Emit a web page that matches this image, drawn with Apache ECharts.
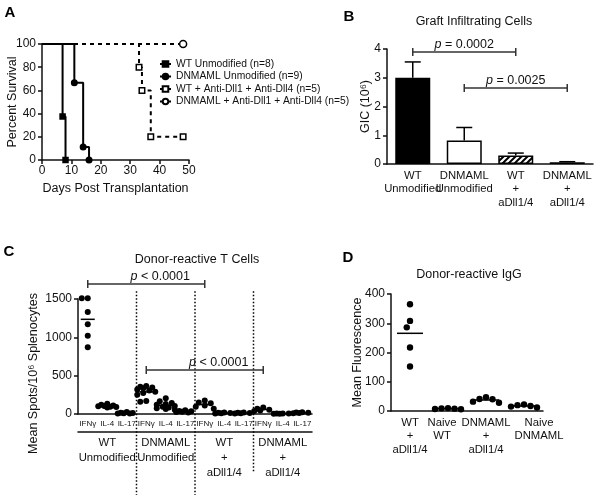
<!DOCTYPE html>
<html><head><meta charset="utf-8">
<script src="https://cdn.jsdelivr.net/npm/echarts@6/dist/echarts.min.js"></script>
<style>html,body{margin:0;padding:0;background:#fff}#c{width:602px;height:503px}</style>
</head><body><div id="c"></div>
<script>
// ---------- Panel A: survival ----------
const survNames = ['WT Unmodified (n=8)', 'DNMAML Unmodified (n=9)', 'WT + Anti-Dll1 + Anti-Dll4 (n=5)', 'DNMAML + Anti-Dll1 + Anti-Dll4 (n=5)'];
const daysWT = [0, 7, 8];
const pctWT = [100, 37.5, 0];
const daysDN = [0, 11, 14, 16];
const pctDN = [100, 66.7, 11.1, 0];
const daysWTa = [0, 33, 34, 37, 48];
const pctWTa = [100, 80, 60, 20, 20];
const daysDNa = [0, 48];
const pctDNa = [100, 100];

// ---------- Panel B: graft infiltrating cells ----------
const bCats = ['WT\nUnmodified', 'DNMAML\nUnmodified', 'WT\n+\naDll1/4', 'DNMAML\n+\naDll1/4'];
const bMean = [3.0, 0.82, 0.30, 0.06];
const bErr = [0.55, 0.45, 0.08, 0.02];
const bBrackets = [[0, 2, 3.9], [1, 3, 2.64]];
const bBracketLabels = ['= 0.0002', '= 0.0025'];

// ---------- Panel C: donor-reactive T cells ----------
const cCats = ['IFNγ', 'IL-4', 'IL-17', 'IFNγ', 'IL-4', 'IL-17', 'IFNγ', 'IL-4', 'IL-17', 'IFNγ', 'IL-4', 'IL-17'];
const cGroups = ['WT\nUnmodified', 'DNMAML\nUnmodified', 'WT\n+\naDll1/4', 'DNMAML\n+\naDll1/4'];
const cWT_IFNg = [1510, 1510, 1330, 1170, 1020, 870];
const cWT_IL4 = [135, 120, 110, 100, 95, 90, 85, 105];
const cWT_IL17 = [25, 15, 10, 8, 5, 12];
const cDN_IFNg = [365, 355, 345, 335, 320, 305, 290, 275, 250, 170, 160];
const cDN_IL4 = [205, 165, 145, 130, 120, 105, 95, 85, 75, 65, 55];
const cDN_IL17 = [50, 40, 35, 30, 25, 20];
const cWTa_IFNg = [175, 150, 140, 110, 95, 70];
const cWTa_IL4 = [15, 10, 20, 5, 12];
const cWTa_IL17 = [15, 10, 20, 8, 12];
const cDNa_IFNg = [85, 70, 55, 45, 40];
const cDNa_IL4 = [5, 3, 8, 2, 6];
const cDNa_IL17 = [12, 18, 22, 10, 15];
const cBrackets = [[0, 6, 1696], [3, 9, 574]];
const cBracketLabels = ['< 0.0001', '< 0.0001'];

// ---------- Panel D: donor-reactive IgG ----------
const dCats = ['WT\n+\naDll1/4', 'Naive\nWT', 'DNMAML\n+\naDll1/4', 'Naive\nDNMAML'];
const dWTa = [365, 308, 286, 217, 152];
const dNaiveWT = [8, 6, 10, 7, 9];
const dDNa = [47, 40, 28, 32, 41];
const dNaiveDN = [17, 12, 22, 20, 15];

// ---------- layout / style ----------
const FONT = 'Liberation Sans, Arial, sans-serif';
const INK = '#111';
const G = [
  {left: 42, top: 44, width: 147, height: 116},
  {left: 387, top: 49, width: 206, height: 115},
  {left: 78, top: 299, width: 234, height: 115},
  {left: 391, top: 294, width: 152, height: 117}
];

function swarm(values, pxPerVal, pxPerCat, d, maxOff) {
  const order = values.map((_, i) => i).sort((a, b) => values[b] - values[a]);
  const placed = [], out = new Array(values.length);
  const cands = [0];
  for (let k = 1; k * d / 2 <= maxOff + 1e-9; k++) cands.push(-k * d / 2, k * d / 2);
  order.forEach(i => {
    const y = values[i] * pxPerVal;
    let best = 0, bestScore = -Infinity;
    for (const c of cands) {
      let m = Infinity;
      for (const p of placed) m = Math.min(m, Math.hypot(p[0] - c, p[1] - y));
      if (m >= d) { best = c; break; }
      if (m > bestScore) { bestScore = m; best = c; }
    }
    placed.push([best, y]);
    out[i] = best / pxPerCat;
  });
  return out;
}
const mean = a => a.reduce((s, v) => s + v, 0) / a.length;
const plain = v => String(v);

function valueAxisY(grid, min, max, interval, name, gap, namePad) {
  return {
    type: 'value', gridIndex: grid, min, max, interval,
    name, nameLocation: 'middle', nameGap: gap, nameMoveOverlap: false,
    nameTextStyle: {fontFamily: FONT, fontSize: 12.5, color: INK, padding: namePad || 0},
    axisLine: {show: true, onZero: false, lineStyle: {color: INK, width: 1.5}},
    axisTick: {show: true, length: 4, lineStyle: {color: INK, width: 1.5}},
    axisLabel: {fontFamily: FONT, fontSize: 12, color: INK, margin: 6, formatter: plain},
    splitLine: {show: false}
  };
}
function catAxisX(grid, data, fontSize, lh, margin, extra) {
  return Object.assign({
    type: 'category', gridIndex: grid, data, position: 'bottom',
    axisLine: {show: true, onZero: false, lineStyle: {color: INK, width: 1.5}},
    axisTick: {show: false},
    axisLabel: {interval: 0, fontFamily: FONT, fontSize, lineHeight: lh, color: INK, margin, hideOverlap: false},
    splitLine: {show: false}
  }, extra || {});
}

// hatch pattern
const hatch = document.createElement('canvas');
hatch.width = 6; hatch.height = 6;
(function () {
  const ctx = hatch.getContext('2d');
  ctx.fillStyle = '#fff'; ctx.fillRect(0, 0, 6, 6);
  ctx.strokeStyle = '#000'; ctx.lineWidth = 2;
  ctx.beginPath();
  ctx.moveTo(0, 6); ctx.lineTo(6, 0);
  ctx.moveTo(-3, 3); ctx.lineTo(3, -3);
  ctx.moveTo(3, 9); ctx.lineTo(9, 3);
  ctx.stroke();
})();

// Panel A series
function survData(days, pct) {
  return days.map((d, i) => i === 0 ? {value: [d, pct[i]], symbol: 'none'} : [d, pct[i]]);
}
const survSets = [
  {d: daysWT, p: pctWT, sym: 'rect', size: 5, fill: '#000', dash: 'solid'},
  {d: daysDN, p: pctDN, sym: 'circle', size: 5.5, fill: '#000', dash: 'solid'},
  {d: daysWTa, p: pctWTa, sym: 'rect', size: 5.5, fill: '#fff', dash: [4, 4]},
  {d: daysDNa, p: pctDNa, sym: 'circle', size: 7, fill: '#fff', dash: [4, 4]}
];
const seriesA = survSets.map((s, i) => ({
  type: 'line', name: survNames[i], xAxisIndex: 0, yAxisIndex: 0, step: 'end',
  data: survData(s.d, s.p), symbol: s.sym, symbolSize: s.size,
  showAllSymbol: true, clip: false,
  lineStyle: {color: '#000', width: 2, type: s.dash},
  itemStyle: {color: s.fill, borderColor: '#000', borderWidth: 1.5},
  z: 3 + i
}));

// bracket renderer
function bracketRender(labels, shiftPx) {
  return function (params, api) {
    const x0 = api.value(0), x1 = api.value(1), y = api.value(2);
    const p0 = api.coord([x0, y]), p1 = api.coord([x1, y]);
    const st = {stroke: '#333', lineWidth: 1.5};
    return {type: 'group', children: [
      {type: 'line', shape: {x1: p0[0], y1: p0[1], x2: p1[0], y2: p1[1]}, style: st},
      {type: 'line', shape: {x1: p0[0], y1: p0[1] - 4, x2: p0[0], y2: p0[1] + 4}, style: st},
      {type: 'line', shape: {x1: p1[0], y1: p1[1] - 4, x2: p1[0], y2: p1[1] + 4}, style: st},
      {type: 'text', x: (p0[0] + p1[0]) / 2 + shiftPx, y: p0[1] - 1,
        style: {text: '{i|p} ' + labels[params.dataIndex], fill: INK, fontFamily: FONT, fontSize: 12.5,
          align: 'center', verticalAlign: 'bottom',
          rich: {i: {fontStyle: 'italic', fontFamily: FONT, fontSize: 12.5, fill: INK}}}}
    ]};
  };
}
function meanLineRender(halfPx) {
  return function (params, api) {
    const p = api.coord([api.value(0), api.value(1)]);
    return {type: 'line', shape: {x1: p[0] - halfPx, y1: p[1], x2: p[0] + halfPx, y2: p[1]},
      style: {stroke: '#000', lineWidth: 1.5}};
  };
}
function dotRender(r) {
  return function (params, api) {
    const p = api.coord([api.value(0), api.value(1)]);
    return {type: 'circle', shape: {cx: p[0], cy: p[1], r: r}, style: {fill: '#000'}};
  };
}

// Panel C points
const cSets = [cWT_IFNg, cWT_IL4, cWT_IL17, cDN_IFNg, cDN_IL4, cDN_IL17, cWTa_IFNg, cWTa_IL4, cWTa_IL17, cDNa_IFNg, cDNa_IL4, cDNa_IL17];
const cPxPerVal = G[2].height / 1500, cPxPerCat = G[2].width / 12;
const cPoints = [];
cSets.forEach((vals, g) => {
  const off = swarm(vals, cPxPerVal, cPxPerCat, 6, 9);
  vals.forEach((v, i) => cPoints.push([g + off[i], v]));
});
const cMeans = cSets.map((vals, g) => [g, mean(vals)]);

// Panel D points
const dSets = [dWTa, dNaiveWT, dDNa, dNaiveDN];
const dPxPerVal = G[3].height / 400, dPxPerCat = G[3].width / 4;
const dPoints = [];
dSets.forEach((vals, g) => {
  const off = swarm(vals, dPxPerVal, dPxPerCat, 6.5, 16);
  vals.forEach((v, i) => dPoints.push([g + off[i], v]));
});
const dMeans = dSets.map((vals, g) => [g, mean(vals)]);
// label nudges for panel D category text (layout only)
const dLabelPad = [[0, 0, 0, 0], [0, 12, 0, 0], [0, 0, 0, 0], [0, 0, 0, 30]];
const dCatItems = dCats.map((c, i) => ({value: c, textStyle: {padding: dLabelPad[i]}}));

const chart = echarts.init(document.getElementById('c'), null, {renderer: 'canvas'});
chart.setOption({
  animation: false,
  backgroundColor: '#fff',
  textStyle: {fontFamily: FONT, color: INK},
  grid: G.map(g => Object.assign({containLabel: false, outerBoundsMode: 'none'}, g)),
  legend: {
    data: survNames, orient: 'vertical', left: 159, top: 58, itemGap: 0.5,
    itemWidth: 11, itemHeight: 7, padding: 0,
    textStyle: {fontFamily: FONT, fontSize: 10.3, color: INK, lineHeight: 12}
  },
  xAxis: [
    {
      type: 'value', gridIndex: 0, min: 0, max: 50, interval: 10,
      name: 'Days Post Transplantation', nameLocation: 'middle', nameGap: 22,
      nameTextStyle: {fontFamily: FONT, fontSize: 12.5, color: INK},
      axisLine: {show: true, onZero: false, lineStyle: {color: INK, width: 1.5}},
      axisTick: {show: true, length: 4, lineStyle: {color: INK, width: 1.5}},
      axisLabel: {fontFamily: FONT, fontSize: 12, color: INK, margin: 5, formatter: plain},
      splitLine: {show: false}
    },
    catAxisX(1, bCats, 11.3, 13.5, 5),
    catAxisX(2, cCats, 8, 10, 5),
    {type: 'value', gridIndex: 2, min: -0.5, max: 11.5, show: false, axisLine: {onZero: false}},
    catAxisX(2, cGroups, 11.3, 15, 3, {offset: 18}),
    catAxisX(3, dCatItems, 11.3, 13.5, 5),
    {type: 'value', gridIndex: 3, min: -0.5, max: 3.5, show: false, axisLine: {onZero: false}}
  ],
  yAxis: [
    valueAxisY(0, 0, 100, 20, 'Percent Survival', 23),
    valueAxisY(1, 0, 4, 1, 'GIC (10⁶)', 15),
    valueAxisY(2, 0, 1500, 500, 'Mean Spots/10⁶ Splenocytes', 38, [0, 34, 0, 0]),
    valueAxisY(3, 0, 400, 100, 'Mean Fluorescence', 27)
  ],
  series: [
    ...seriesA,
    {
      type: 'bar', xAxisIndex: 1, yAxisIndex: 1, barWidth: 35,
      data: bMean.map((v, i) => ({
        value: v,
        itemStyle: {
          color: i === 0 ? '#000' : (i === 1 ? '#fff' : {image: hatch, repeat: 'repeat'}),
          borderColor: '#000', borderWidth: 1.5
        }
      }))
    },
    {
      type: 'custom', xAxisIndex: 1, yAxisIndex: 1, z: 5,
      data: bMean.map((v, i) => [i, v, bErr[i]]),
      renderItem: function (params, api) {
        const i = api.value(0), v = api.value(1), e = api.value(2);
        const p0 = api.coord([i, v]), p1 = api.coord([i, v + e]);
        const st = {stroke: '#000', lineWidth: 1.5};
        return {type: 'group', children: [
          {type: 'line', shape: {x1: p0[0], y1: p0[1], x2: p1[0], y2: p1[1]}, style: st},
          {type: 'line', shape: {x1: p1[0] - 8, y1: p1[1], x2: p1[0] + 8, y2: p1[1]}, style: st}
        ]};
      }
    },
    {
      type: 'custom', xAxisIndex: 1, yAxisIndex: 1, z: 5, clip: false,
      data: bBrackets, encode: {x: 0, y: 2},
      renderItem: bracketRender(bBracketLabels, 0)
    },
    {
      type: 'custom', xAxisIndex: 3, yAxisIndex: 2, data: cPoints, z: 4,
      renderItem: dotRender(3)
    },
    {
      type: 'custom', xAxisIndex: 3, yAxisIndex: 2, data: cMeans, z: 5,
      renderItem: meanLineRender(7)
    },
    {
      type: 'custom', xAxisIndex: 3, yAxisIndex: 2, z: 5, clip: false,
      data: cBrackets, encode: {x: 0, y: 2},
      renderItem: bracketRender(cBracketLabels, 14)
    },
    {
      type: 'custom', xAxisIndex: 3, yAxisIndex: 2, z: 2, clip: false,
      data: [[2.5, 1600, -1055], [5.5, 1600, -1055], [8.5, 1600, -755]], encode: {x: 0, y: 1},
      renderItem: function (params, api) {
        const x = api.value(0);
        const a = api.coord([x, api.value(1)]), b = api.coord([x, api.value(2)]);
        return {type: 'line', shape: {x1: a[0], y1: a[1], x2: b[0], y2: b[1]},
          style: {stroke: '#000', lineWidth: 1.5, lineDash: [1.5, 2]}};
      }
    },
    {
      type: 'custom', xAxisIndex: 6, yAxisIndex: 3, data: dPoints, z: 4,
      renderItem: dotRender(3.2)
    },
    {
      type: 'custom', xAxisIndex: 6, yAxisIndex: 3, data: dMeans, z: 5,
      renderItem: meanLineRender(13)
    }
  ],
  graphic: [
    {type: 'text', x: 10, y: 13, style: {text: 'A', fontFamily: FONT, fontWeight: 'bold', fontSize: 15, fill: '#000', align: 'center', verticalAlign: 'middle'}},
    {type: 'text', x: 349, y: 17, style: {text: 'B', fontFamily: FONT, fontWeight: 'bold', fontSize: 15, fill: '#000', align: 'center', verticalAlign: 'middle'}},
    {type: 'text', x: 9, y: 252, style: {text: 'C', fontFamily: FONT, fontWeight: 'bold', fontSize: 15, fill: '#000', align: 'center', verticalAlign: 'middle'}},
    {type: 'text', x: 348, y: 258, style: {text: 'D', fontFamily: FONT, fontWeight: 'bold', fontSize: 15, fill: '#000', align: 'center', verticalAlign: 'middle'}},
    {type: 'text', x: 474, y: 22, style: {text: 'Graft Infiltrating Cells', fontFamily: FONT, fontSize: 12.5, fill: INK, align: 'center', verticalAlign: 'middle'}},
    {type: 'text', x: 197, y: 260, style: {text: 'Donor-reactive T Cells', fontFamily: FONT, fontSize: 12.5, fill: INK, align: 'center', verticalAlign: 'middle'}},
    {type: 'text', x: 469, y: 275, style: {text: 'Donor-reactive IgG', fontFamily: FONT, fontSize: 12.5, fill: INK, align: 'center', verticalAlign: 'middle'}}
  ]
});
</script>
</body></html>
